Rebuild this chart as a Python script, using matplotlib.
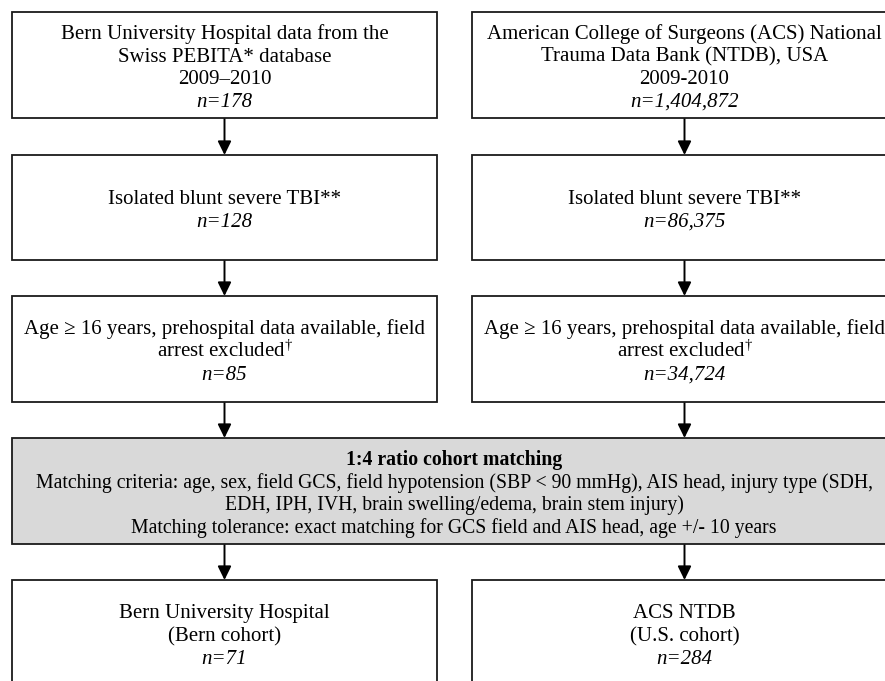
import matplotlib
matplotlib.use("Agg")
import matplotlib.pyplot as plt
from matplotlib.patches import Rectangle

plt.rcParams['font.family'] = ['Liberation Serif', 'DejaVu Serif']
plt.rcParams['mathtext.fontset'] = 'custom'
plt.rcParams['mathtext.rm'] = 'Liberation Serif'
plt.rcParams['mathtext.it'] = 'Liberation Serif:italic'

# ---- content ----
left_lines = [
    ["Bern University Hospital data from the", "Swiss PEBITA* database", "2009\u20132010", "n=178"],
    ["Isolated blunt severe TBI**", "n=128"],
    ["Age \u2265 16 years, prehospital data available, field", r"arrest excluded$^{\dagger}$", "n=85"],
]
right_lines = [
    ["American College of Surgeons (ACS) National", "Trauma Data Bank (NTDB), USA", "2009-2010", "n=1,404,872"],
    ["Isolated blunt severe TBI**", "n=86,375"],
    ["Age \u2265 16 years, prehospital data available, field", r"arrest excluded$^{\dagger}$", "n=34,724"],
]
match_lines = [
    "1:4 ratio cohort matching",
    "Matching criteria: age, sex, field GCS, field hypotension (SBP < 90 mmHg), AIS head, injury type (SDH,",
    "EDH, IPH, IVH, brain swelling/edema, brain stem injury)",
    "Matching tolerance: exact matching for GCS field and AIS head, age +/- 10 years",
]
match_styles = ["bold", "normal", "normal", "normal"]
final_left = ["Bern University Hospital", "(Bern cohort)", "n=71"]
final_right = ["ACS NTDB", "(U.S. cohort)", "n=284"]

# ---- layout (pixels) ----
W, H = 885, 681
fig = plt.figure(figsize=(W / 100, H / 100), dpi=100)
ax = fig.add_axes([0, 0, 1, 1])
ax.set_xlim(0, W)
ax.set_ylim(H, 0)
ax.axis('off')

LX0, LX1 = 12, 437
RX0, RX1 = 472, 898
rows = [(12, 118), (155, 260), (296, 402)]
match_row = (438, 544)
final_row = (580, 686)
FS = 15
FS_MATCH = 14.2
LS = 22.6
EDGE = '#1a1a1a'


def box(x0, x1, y0, y1, fc='white'):
    ax.add_patch(Rectangle((x0, y0), x1 - x0, y1 - y0, facecolor=fc,
                           edgecolor=EDGE, lw=1.3, zorder=2))


def lines_in(xc, y0, y1, lines, styles, fs=FS):
    yc = (y0 + y1) / 2 + 8
    n = len(lines)
    for i, (t, s) in enumerate(zip(lines, styles)):
        y = yc + (i - (n - 1) / 2) * LS
        kw = {}
        if s == 'italic':
            kw['style'] = 'italic'
        if s == 'bold':
            kw['weight'] = 'bold'
        ax.text(xc, y, t, ha='center', va='baseline', fontsize=fs,
                color='black', zorder=3, **kw)


def arrow(x, y0, y1):
    ax.annotate('', xy=(x, y1), xytext=(x, y0),
                arrowprops=dict(arrowstyle='-|>,head_length=0.55,head_width=0.27',
                                mutation_scale=15, lw=1.4, color='black',
                                shrinkA=0, shrinkB=0), zorder=1)


lxc = (LX0 + LX1) / 2
rxc = (RX0 + RX1) / 2 - 0.5

for (y0, y1), ll, rl in zip(rows, left_lines, right_lines):
    box(LX0, LX1, y0, y1)
    box(RX0, RX1, y0, y1)
    st_l = ['normal'] * (len(ll) - 1) + ['italic']
    st_r = ['normal'] * (len(rl) - 1) + ['italic']
    lines_in(lxc, y0, y1, ll, st_l)
    lines_in(rxc, y0, y1, rl, st_r)

# arrows between rows
all_rows = rows + [match_row, final_row]
for a, b in zip(all_rows[:-1], all_rows[1:]):
    arrow(lxc, a[1], b[0])
    arrow(rxc, a[1], b[0])

box(LX0, RX1, match_row[0], match_row[1], fc='#d9d9d9')
lines_in((LX0 + RX1) / 2 - 1, match_row[0], match_row[1], match_lines, match_styles,
         fs=FS_MATCH)

box(LX0, LX1, final_row[0], final_row[1])
box(RX0, RX1, final_row[0], final_row[1])
lines_in(lxc, final_row[0], final_row[1], final_left, ['normal', 'normal', 'italic'])
lines_in(rxc, final_row[0], final_row[1], final_right, ['normal', 'normal', 'italic'])

fig.savefig('out.png', dpi=100)
